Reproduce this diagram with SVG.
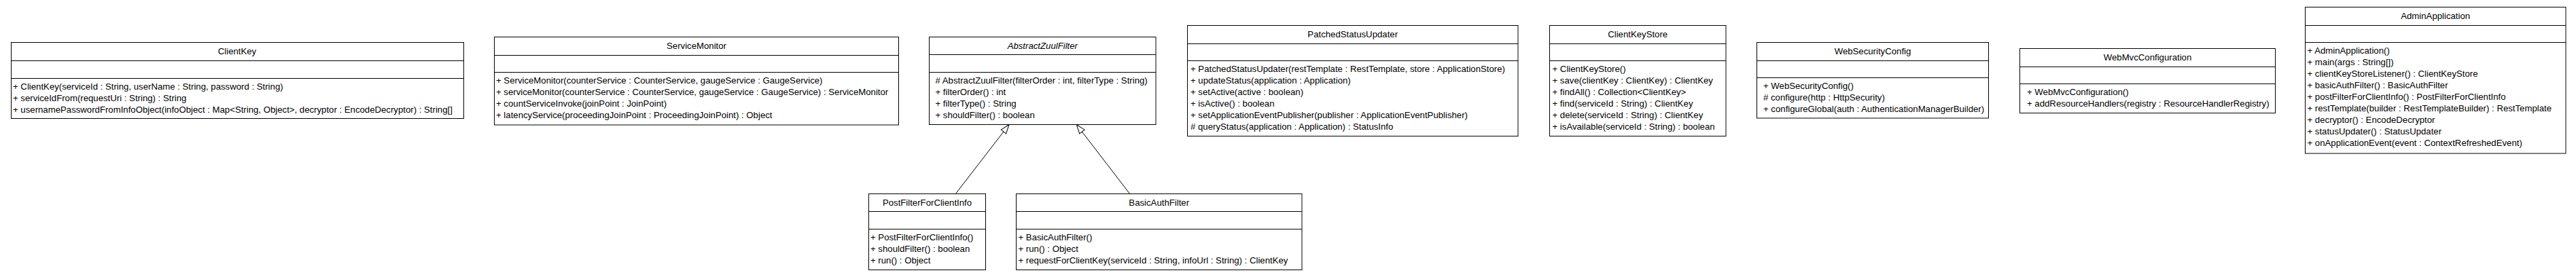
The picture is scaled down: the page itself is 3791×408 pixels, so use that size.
<svg xmlns="http://www.w3.org/2000/svg" width="3791" height="408" viewBox="0 0 3791 408">
<defs>
<style>
.box{fill:#fff;stroke:#000;stroke-width:1}
.sep{fill:none;stroke:#000;stroke-width:1}
.t{font-family:"Liberation Sans",Arial,Helvetica,sans-serif;font-size:13.2px;fill:#000}
.c{text-anchor:middle}
.i{font-style:italic}
.edge{fill:none;stroke:#000;stroke-width:1}
</style>
<marker id="gen" markerUnits="userSpaceOnUse" viewBox="0 0 15 11" markerWidth="15" markerHeight="11" refX="14" refY="5.5" orient="auto">
<path d="M0.7,0.8 L14,5.5 L0.7,10.2 Z" fill="#fff" stroke="#000" stroke-width="1"/>
</marker>
</defs>
<rect x="0" y="0" width="3791" height="408" fill="#fff"/>

<g id="connectors">
<path class="edge" d="M1406.7,285 L1485,183.5" marker-end="url(#gen)"/>
<path class="edge" d="M1662.3,285 L1584.3,183.5" marker-end="url(#gen)"/>
</g>

<g id="ClientKey">
<rect class="box" x="16.5" y="62.5" width="666" height="112"/>
<path class="sep" d="M16.5,89.5H682.5M16.5,115.5H682.5"/>
<text class="t c" x="349" y="79.5">ClientKey</text>
<text class="t" x="19" y="131.5">+ ClientKey(serviceId : String, userName : String, password : String)</text>
<text class="t" x="19" y="148.5">+ serviceIdFrom(requestUri : String) : String</text>
<text class="t" x="19" y="165.5">+ usernamePasswordFromInfoObject(infoObject : Map&lt;String, Object&gt;, decryptor : EncodeDecryptor) : String[]</text>
</g>

<g id="ServiceMonitor">
<rect class="box" x="727.5" y="54.5" width="595" height="129.5"/>
<path class="sep" d="M727.5,81.5H1322.5M727.5,106.5H1322.5"/>
<text class="t c" x="1025" y="71.5">ServiceMonitor</text>
<text class="t" x="730" y="122.5">+ ServiceMonitor(counterService : CounterService, gaugeService : GaugeService)</text>
<text class="t" x="730" y="139.5">+ serviceMonitor(counterService : CounterService, gaugeService : GaugeService) : ServiceMonitor</text>
<text class="t" x="730" y="156.5">+ countServiceInvoke(joinPoint : JoinPoint)</text>
<text class="t" x="730" y="173.5">+ latencyService(proceedingJoinPoint : ProceedingJoinPoint) : Object</text>
</g>

<g id="AbstractZuulFilter">
<rect class="box" x="1367.5" y="54.5" width="333.5" height="129"/>
<path class="sep" d="M1367.5,80.5H1701M1367.5,106.5H1701"/>
<text class="t c i" x="1534.3" y="71.5">AbstractZuulFilter</text>
<text class="t" x="1376.5" y="122.5"># AbstractZuulFilter(filterOrder : int, filterType : String)</text>
<text class="t" x="1376.5" y="139.5">+ filterOrder() : int</text>
<text class="t" x="1376.5" y="156.5">+ filterType() : String</text>
<text class="t" x="1376.5" y="173.5">+ shouldFilter() : boolean</text>
</g>

<g id="PatchedStatusUpdater">
<rect class="box" x="1747.5" y="37.5" width="486.5" height="163"/>
<path class="sep" d="M1747.5,64.5H2234M1747.5,89.5H2234"/>
<text class="t c" x="1990.7" y="54.5">PatchedStatusUpdater</text>
<text class="t" x="1752" y="105.5">+ PatchedStatusUpdater(restTemplate : RestTemplate, store : ApplicationStore)</text>
<text class="t" x="1752" y="122.5">+ updateStatus(application : Application)</text>
<text class="t" x="1752" y="139.5">+ setActive(active : boolean)</text>
<text class="t" x="1752" y="156.5">+ isActive() : boolean</text>
<text class="t" x="1752" y="173.5">+ setApplicationEventPublisher(publisher : ApplicationEventPublisher)</text>
<text class="t" x="1752" y="190.5"># queryStatus(application : Application) : StatusInfo</text>
</g>

<g id="ClientKeyStore">
<rect class="box" x="2280.5" y="37.5" width="259.5" height="163"/>
<path class="sep" d="M2280.5,64.5H2540M2280.5,89.5H2540"/>
<text class="t c" x="2410.2" y="54.5">ClientKeyStore</text>
<text class="t" x="2284.5" y="105.5">+ ClientKeyStore()</text>
<text class="t" x="2284.5" y="122.5">+ save(clientKey : ClientKey) : ClientKey</text>
<text class="t" x="2284.5" y="139.5">+ findAll() : Collection&lt;ClientKey&gt;</text>
<text class="t" x="2284.5" y="156.5">+ find(serviceId : String) : ClientKey</text>
<text class="t" x="2284.5" y="173.5">+ delete(serviceId : String) : ClientKey</text>
<text class="t" x="2284.5" y="190.5">+ isAvailable(serviceId : String) : boolean</text>
</g>

<g id="WebSecurityConfig">
<rect class="box" x="2585.5" y="62.5" width="341" height="111.5"/>
<path class="sep" d="M2585.5,89.5H2926.5M2585.5,114.5H2926.5"/>
<text class="t c" x="2756" y="79.5">WebSecurityConfig</text>
<text class="t" x="2595" y="130.5">+ WebSecurityConfig()</text>
<text class="t" x="2595" y="147.5"># configure(http : HttpSecurity)</text>
<text class="t" x="2595" y="164.5">+ configureGlobal(auth : AuthenticationManagerBuilder)</text>
</g>

<g id="WebMvcConfiguration">
<rect class="box" x="2972.5" y="71.5" width="376" height="95"/>
<path class="sep" d="M2972.5,98.5H3348.5M2972.5,123.5H3348.5"/>
<text class="t c" x="3160.5" y="88.5">WebMvcConfiguration</text>
<text class="t" x="2983" y="139.5">+ WebMvcConfiguration()</text>
<text class="t" x="2983" y="156.5">+ addResourceHandlers(registry : ResourceHandlerRegistry)</text>
</g>

<g id="AdminApplication">
<rect class="box" x="3392.5" y="10.5" width="383.5" height="215.5"/>
<path class="sep" d="M3392.5,37.5H3776M3392.5,62.5H3776"/>
<text class="t c" x="3584.2" y="27.5">AdminApplication</text>
<text class="t" x="3395.5" y="78.5">+ AdminApplication()</text>
<text class="t" x="3395.5" y="95.5">+ main(args : String[])</text>
<text class="t" x="3395.5" y="112.5">+ clientKeyStoreListener() : ClientKeyStore</text>
<text class="t" x="3395.5" y="129.5">+ basicAuthFilter() : BasicAuthFilter</text>
<text class="t" x="3395.5" y="146.5">+ postFilterForClientInfo() : PostFilterForClientInfo</text>
<text class="t" x="3395.5" y="163.5">+ restTemplate(builder : RestTemplateBuilder) : RestTemplate</text>
<text class="t" x="3395.5" y="180.5">+ decryptor() : EncodeDecryptor</text>
<text class="t" x="3395.5" y="197.5">+ statusUpdater() : StatusUpdater</text>
<text class="t" x="3395.5" y="214.5">+ onApplicationEvent(event : ContextRefreshedEvent)</text>
</g>

<g id="PostFilterForClientInfo">
<rect class="box" x="1278.5" y="285.5" width="172" height="112"/>
<path class="sep" d="M1278.5,311.5H1450.5M1278.5,337.5H1450.5"/>
<text class="t c" x="1364.5" y="302.5">PostFilterForClientInfo</text>
<text class="t" x="1281" y="353.5">+ PostFilterForClientInfo()</text>
<text class="t" x="1281" y="370.5">+ shouldFilter() : boolean</text>
<text class="t" x="1281" y="387.5">+ run() : Object</text>
</g>

<g id="BasicAuthFilter">
<rect class="box" x="1495.5" y="285.5" width="420.5" height="112"/>
<path class="sep" d="M1495.5,311.5H1916M1495.5,337.5H1916"/>
<text class="t c" x="1705.7" y="302.5">BasicAuthFilter</text>
<text class="t" x="1498.5" y="353.5">+ BasicAuthFilter()</text>
<text class="t" x="1498.5" y="370.5">+ run() : Object</text>
<text class="t" x="1498.5" y="387.5">+ requestForClientKey(serviceId : String, infoUrl : String) : ClientKey</text>
</g>
</svg>
